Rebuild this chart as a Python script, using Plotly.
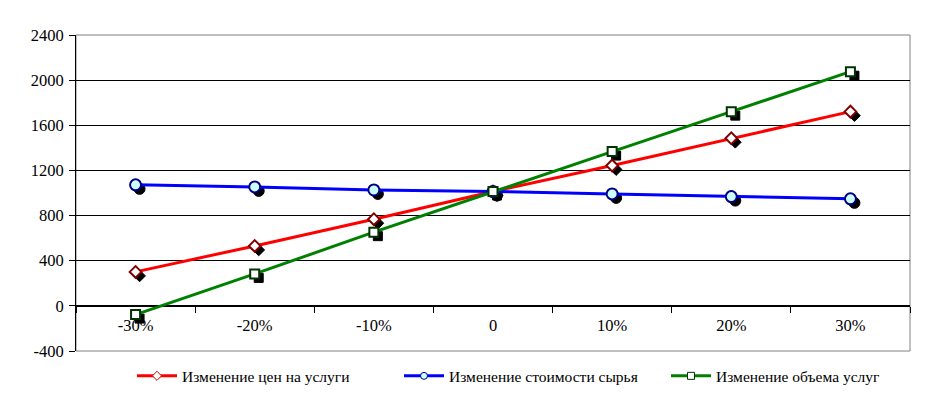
import plotly.graph_objects as go

categories = ["-30%", "-20%", "-10%", "0", "10%", "20%", "30%"]
price_change = [301, 531, 768, 1013, 1243, 1485, 1721]
material_cost = [1072, 1054, 1027, 1013, 992, 968, 948]
volume_change = [-77, 283, 653, 1013, 1367, 1721, 2075]
series_names = ["Изменение цен на услуги", "Изменение стоимости сырья", "Изменение объема услуг"]
y_ticks = [-400, 0, 400, 800, 1200, 1600, 2000, 2400]

FONT = "Liberation Serif"
OFF = 8  # page body offset
W, H = 928 - OFF, 397 - OFF
ML, MR, MT, MB = 76 - OFF, 18, 35 - OFF, 46
pw = W - ML - MR
ph = H - MT - MB
ymin, ymax = -400, 2400
dx = 4 / (pw / len(categories))
dy = 4 * (ymax - ymin) / ph

styles = [
    dict(color="#FF0000", symbol="diamond", size=9, fill="#FFFFFF", edge="#800000", ledge="#C00000"),
    dict(color="#0000FF", symbol="circle", size=11, fill="#CCFFFF", edge="#000080", ledge="#000080"),
    dict(color="#008000", symbol="square", size=9, fill="#FFFFFF", edge="#003300", ledge="#003300"),
]
data = [price_change, material_cost, volume_change]

fig = go.Figure()
# shadows (on offset axes)
for vals, st in zip(data, styles):
    fig.add_trace(go.Scatter(
        x=categories, y=vals, mode="markers", xaxis="x", yaxis="y",
        marker=dict(symbol=st["symbol"], size=st["size"], color="#000000",
                    line=dict(color="#000000", width=1)),
        showlegend=False, hoverinfo="skip"))
# main series
for vals, st, name in zip(data, styles, series_names):
    fig.add_trace(go.Scatter(
        x=categories, y=vals, mode="lines+markers", name=name, xaxis="x2", yaxis="y2",
        line=dict(color=st["color"], width=3), showlegend=False, legendgroup=name,
        marker=dict(symbol=st["symbol"], size=st["size"], color=st["fill"],
                    line=dict(color=st["edge"], width=2))))
# legend entries (smaller markers, as in the reference legend)
for st, name in zip(styles, series_names):
    fig.add_trace(go.Scatter(
        x=[None], y=[None], mode="lines+markers", name=name, xaxis="x2", yaxis="y2",
        legendgroup=name,
        line=dict(color=st["color"], width=3),
        marker=dict(symbol=st["symbol"], size=7, color=st["fill"],
                    line=dict(color=st["ledge"], width=1))))

fig.update_layout(
    template="none",
    width=W, height=H,
    margin=dict(l=ML, r=MR, t=MT, b=MB, autoexpand=False),
    paper_bgcolor="white", plot_bgcolor="white",
    font=dict(family=FONT, size=15, color="black"),
    xaxis=dict(type="category", range=[-0.5 - dx, len(categories) - 0.5 - dx],
               visible=False, showgrid=False, zeroline=False, automargin=False),
    yaxis=dict(range=[ymin + dy, ymax + dy], visible=False, showgrid=False, zeroline=False,
               automargin=False),
    xaxis2=dict(type="category", overlaying="x", anchor="free",
                position=(0 - ymin) / (ymax - ymin),
                range=[-0.5, len(categories) - 0.5], automargin=False,
                showgrid=False, zeroline=False, showline=True, linecolor="black", linewidth=1,
                ticks="outside", tickson="boundaries", ticklen=6, tickcolor="black",
                ticklabelstandoff=4,
                layer="below traces", tickfont=dict(family=FONT, size=16.5, color="black")),
    yaxis2=dict(overlaying="y", anchor="x2", side="left", range=[ymin, ymax], automargin=False,
                tickvals=y_ticks, ticktext=[str(v) for v in y_ticks],
                showgrid=True, gridcolor="black", gridwidth=1, zeroline=False,
                showline=True, linecolor="black", linewidth=1,
                ticks="outside", ticklen=6, tickcolor="black", ticklabelstandoff=2,
                layer="below traces", tickfont=dict(family=FONT, size=16.5, color="black")),
    legend=dict(orientation="h", x=(137 - 76 - 5) / 834, xanchor="left",
                y=-0.08, yanchor="middle",
                itemwidth=40, entrywidth=212, entrywidthmode="pixels",
                font=dict(family=FONT, size=15.5, color="black"), bgcolor="rgba(0,0,0,0)",
                itemclick=False),
    shapes=[dict(type="rect", xref="paper", yref="paper", x0=0, x1=1, y0=0, y1=1,
                 line=dict(color="#808080", width=1), layer="below")],
)

fig.write_html("out.html")
